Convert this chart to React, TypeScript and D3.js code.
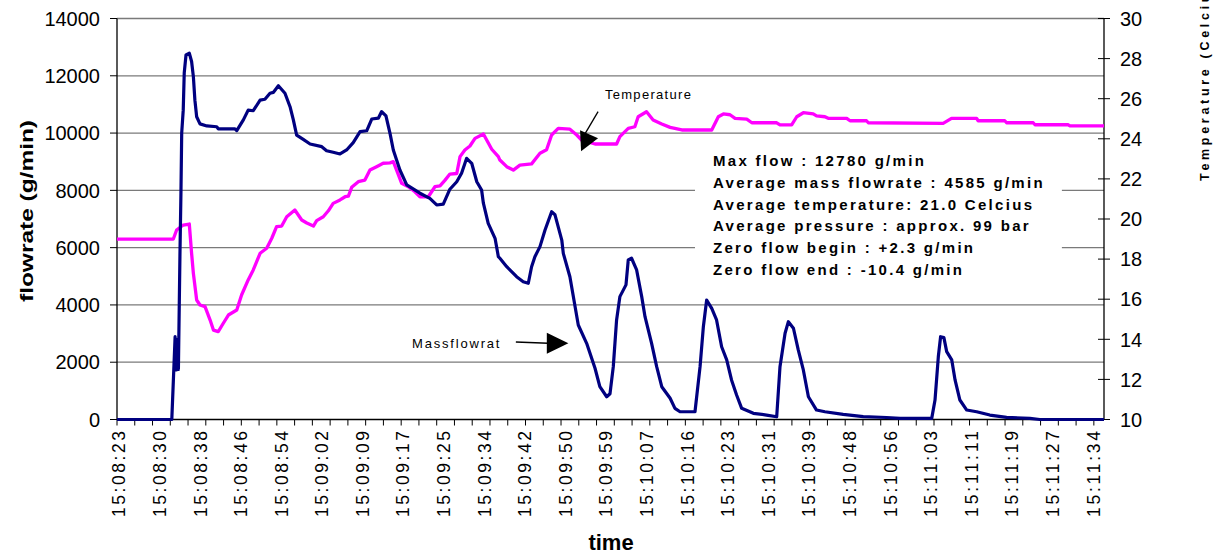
import React from "react";
import * as d3 from "d3";

// x-axis categories: one label every 16 samples, a tick mark every 7
const timeLabels = [
  "15:08:23", "15:08:30", "15:08:38", "15:08:46", "15:08:54", "15:09:02", "15:09:09",
  "15:09:17", "15:09:25", "15:09:34", "15:09:42", "15:09:50", "15:09:59", "15:10:07",
  "15:10:16", "15:10:23", "15:10:31", "15:10:39", "15:10:48", "15:10:56", "15:11:03",
  "15:11:11", "15:11:19", "15:11:27", "15:11:34",
];
const LABEL_EVERY = 16;
const TICK_EVERY = 7;
const SAMPLE_COUNT = 389;

const flowTicks = [0, 2000, 4000, 6000, 8000, 10000, 12000, 14000];
const tempTicks = [10, 12, 14, 16, 18, 20, 22, 24, 26, 28, 30];

// [sample index, g/min]
const massFlow: [number, number][] = [
  [0, 0], [21.6, 0], [22.9, 2890], [23.4, 1730], [23.8, 2800], [24.2, 1750], [24.8, 5690],
  [25.2, 7900], [25.5, 10000], [26.1, 10800], [26.5, 12100], [27.2, 12730], [28.5, 12790],
  [29.4, 12500], [30.1, 11970], [30.7, 11150], [31.4, 10570], [32.7, 10320], [35.4, 10250],
  [39.3, 10220], [39.9, 10150], [46.5, 10150], [47.2, 10085], [49.8, 10460], [51.7, 10800],
  [53.7, 10780], [56.4, 11150], [58.3, 11180], [60.3, 11390], [61.6, 11420], [63.6, 11650],
  [66.2, 11390], [68.2, 10920], [69.5, 10460], [70.8, 9930], [73.4, 9780], [76.1, 9620],
  [80.7, 9525], [82.6, 9385], [85.2, 9330], [87.9, 9270], [90.5, 9410], [93.1, 9665],
  [95.8, 10050], [98.4, 10080], [100.4, 10490], [103, 10520], [104.3, 10750], [106, 10600],
  [107.6, 9990], [108.9, 9410], [111.5, 8710], [114.2, 8190], [119.4, 7900], [123.3, 7720],
  [126, 7490], [128.6, 7520], [131.2, 8040], [133.9, 8300], [135.8, 8600], [137.8, 9120],
  [139.8, 8945], [141.8, 8300], [143.7, 8010], [144.4, 7550], [146.3, 6850], [149, 6325],
  [150.3, 5685], [150.9, 5630], [153.6, 5335], [157.5, 4985], [160.1, 4810], [162.1, 4755],
  [163.4, 5335], [164.7, 5685], [166.7, 6035], [168.7, 6615], [171.3, 7255], [172.6, 7150],
  [175.3, 6265], [175.9, 5800], [178.5, 4985], [181.8, 3300], [185.1, 2660], [188.4, 1790],
  [190.3, 1145], [193, 795], [194.3, 900], [195.6, 1845], [196.9, 3475], [198.2, 4290],
  [200.6, 4700], [201.5, 5570], [202.8, 5630], [204.8, 5220], [206.8, 4290], [208.1, 3590],
  [210.7, 2660], [212.7, 1845], [214.7, 1145], [218, 740], [219.9, 390], [221.9, 270],
  [227.8, 270], [229.8, 1845], [231.1, 3240], [232.4, 4170], [234.4, 3880], [236.3, 3475],
  [238.3, 2540], [240.3, 2080], [242.2, 1380], [244.2, 855], [246.2, 390], [250.8, 215],
  [256, 155], [260, 95], [261.3, 1845], [263.3, 3010], [264.6, 3415], [266.6, 3185],
  [268.5, 2430], [270.5, 1730], [272.5, 795], [275.7, 330], [279, 270], [286.2, 180],
  [294.1, 100], [303.3, 70], [308.6, 40], [321.1, 40], [322.4, 680], [323.7, 2190],
  [324.6, 2890], [325.9, 2860], [327, 2370], [329, 2080], [330.3, 1380], [332.2, 680],
  [334.9, 330], [338.8, 270], [344, 155], [350.6, 75], [359.8, 40], [363.7, 0], [389, 0],
];

// [sample index, Celcius]
const temperature: [number, number][] = [
  [0, 19.0], [22.2, 19.0], [23.5, 19.45], [26.1, 19.7], [28.5, 19.75], [29.4, 18.29],
  [30.1, 17.29], [31.4, 15.96], [32.7, 15.71], [34.7, 15.63], [36.7, 14.96], [38, 14.46],
  [39.9, 14.38], [41.9, 14.8], [43.9, 15.21], [47.2, 15.46], [49.1, 16.21], [51.7, 16.96],
  [53.7, 17.46], [56.4, 18.29], [59, 18.54], [61, 19.04], [62.9, 19.62], [64.9, 19.65],
  [66.9, 20.11], [70.1, 20.45], [72.8, 19.95], [74.8, 19.8], [77.4, 19.65], [78.7, 19.92],
  [81.3, 20.11], [83.3, 20.41], [85.2, 20.78], [87.9, 20.95], [89.9, 21.11], [91.2, 21.14],
  [92.5, 21.58], [95.1, 21.86], [97.7, 21.94], [99.7, 22.44], [102.3, 22.61], [104.9, 22.78],
  [107.6, 22.8], [108.9, 22.86], [110.2, 22.44], [112.2, 21.78], [114.8, 21.61], [117.4, 21.36],
  [119.4, 21.11], [122.7, 21.11], [125.3, 21.61], [127.3, 21.65], [129.3, 21.94], [131.2, 22.24],
  [133.9, 22.27], [135.2, 23.11], [137.1, 23.44], [139.1, 23.64], [141.1, 24.02], [144.4, 24.24],
  [145.7, 23.94], [147.7, 23.48], [150.3, 23.11], [150.9, 22.94], [153.6, 22.61], [156.2, 22.44],
  [158.8, 22.69], [163.4, 22.75], [166.7, 23.28], [169.3, 23.45], [171.3, 24.19], [173.9, 24.52],
  [178.5, 24.48], [181.2, 24.19], [183.1, 23.94], [188.4, 23.74], [196.9, 23.74], [198.2, 24.11],
  [201.5, 24.52], [204.1, 24.6], [205.4, 25.1], [208.7, 25.35], [211.3, 24.94], [214.7, 24.74],
  [218, 24.57], [222.6, 24.44], [234.4, 24.44], [237, 25.1], [239, 25.24], [241.6, 25.2],
  [243.6, 25.02], [248.2, 24.98], [250.2, 24.8], [260, 24.8], [261.3, 24.69], [265.9, 24.69],
  [267.9, 25.1], [270.5, 25.3], [274.4, 25.24], [275.7, 25.14], [279, 25.1], [280.3, 25.02],
  [287.6, 25.02], [288.9, 24.9], [295.4, 24.9], [296.1, 24.8], [325.6, 24.77], [328.9, 25.02],
  [338.8, 25.02], [339.4, 24.9], [349.9, 24.9], [350.6, 24.8], [361.1, 24.8], [361.8, 24.7],
  [374.9, 24.7], [375.6, 24.64], [389, 24.64],
];

const statsLines = [
  "Max flow :    12780 g/min",
  "Average mass flowrate : 4585 g/min",
  "Average temperature: 21.0 Celcius",
  "Average pressure : approx. 99 bar",
  "Zero flow begin : +2.3 g/min",
  "Zero flow end : -10.4 g/min",
];

const FONT = "'Liberation Sans', Arial, Helvetica, sans-serif";

export default function App() {
  const x = d3.scaleLinear().domain([0, SAMPLE_COUNT]).range([117, 1104]);
  const yFlow = d3.scaleLinear().domain([0, 14000]).range([419.5, 18.5]);
  const yTemp = d3.scaleLinear().domain([10, 30]).range([419.5, 18.5]);

  const flowLine = d3.line<[number, number]>().x(d => x(d[0])).y(d => yFlow(d[1]));
  const tempLine = d3.line<[number, number]>().x(d => x(d[0])).y(d => yTemp(d[1]));

  const tickIdx = d3.range(0, SAMPLE_COUNT, TICK_EVERY);
  const [x0, x1] = x.range();
  const [yb, yt] = yFlow.range();

  // annotation anchors in data units
  const tempTip = [x(189.6), yFlow(9817)];
  const tempTail = [x(189.6), yFlow(10746)];
  const massTip = [x(177.9), yFlow(2660)];
  const massTail = [x(157.2), yFlow(2706)];

  return (
    <svg width={1226} height={555} style={{ position: "absolute", left: 0, top: 0, background: "#fff" }}
      fontFamily={FONT}>
      {/* gridlines */}
      {flowTicks.filter(v => v > 0).map(v => (
        <line key={v} x1={x0} x2={x1} y1={yFlow(v)} y2={yFlow(v)} stroke="#7a7a7a" strokeWidth={1.3} />
      ))}

      {/* stats box */}
      <rect x={x(227.8)} y={yFlow(9758)} width={x(372.4) - x(227.8)} height={yFlow(4521) - yFlow(9758)} fill="#fff" />
      <g fontSize={15} fontWeight="bold" letterSpacing={2.3} fill="#000" style={{ whiteSpace: "pre" }}>
        {statsLines.map((s, i) => (
          <text key={i} x={x(234.9)} y={yFlow(8850) + i * 21.8}>{s}</text>
        ))}
      </g>

      {/* axes */}
      <line x1={x0} x2={x0} y1={yt} y2={yb} stroke="#000" strokeWidth={1.3} />
      <line x1={x1} x2={x1} y1={yt} y2={yb} stroke="#000" strokeWidth={1.3} />
      <line x1={x0} x2={x1} y1={yb} y2={yb} stroke="#000" strokeWidth={1.3} />

      {flowTicks.map(v => (
        <g key={v}>
          <line x1={x0 - 7} x2={x0} y1={yFlow(v)} y2={yFlow(v)} stroke="#000" />
          <text x={100} y={yFlow(v)} dy="0.36em" textAnchor="end" fontSize={20}>{v}</text>
        </g>
      ))}
      {tempTicks.map(v => (
        <g key={v}>
          <line x1={x1 - 6} x2={x1 + 6} y1={yTemp(v)} y2={yTemp(v)} stroke="#000" />
          <text x={1120} y={yTemp(v)} dy="0.36em" fontSize={20}>{v}</text>
        </g>
      ))}
      {tickIdx.map(i => (
        <line key={i} x1={x(i)} x2={x(i)} y1={yb} y2={yb + 6} stroke="#000" />
      ))}
      {timeLabels.map((t, k) => (
        <text key={t} transform={`translate(${x(k * LABEL_EVERY) + 2},431) rotate(-90)`} dy="0.36em"
          textAnchor="end" fontSize={17.5} textLength={86} lengthAdjust="spacing">{t}</text>
      ))}

      {/* axis titles */}
      <text transform="translate(33,211) rotate(-90)" textAnchor="middle" fontSize={18} fontWeight="bold"
        textLength={182} lengthAdjust="spacingAndGlyphs">flowrate (g/min)</text>
      <text x={611} y={550} textAnchor="middle" fontSize={22} fontWeight="bold">time</text>
      <text transform="translate(1209,181) rotate(-90)" fontSize={12.5} fontWeight="bold"
        textLength={205} lengthAdjust="spacing">Temperature (Celcius)</text>

      {/* series */}
      <path d={tempLine(temperature) ?? ""} fill="none" stroke="#ff00ff" strokeWidth={3.3} strokeLinejoin="round" />
      <path d={flowLine(massFlow) ?? ""} fill="none" stroke="#000080" strokeWidth={3.2} strokeLinejoin="round" />

      {/* annotations */}
      <text x={x(192.3)} y={yFlow(11190)} fontSize={13} letterSpacing={1.3}>Temperature</text>
      <line x1={tempTail[0]} y1={tempTail[1]} x2={tempTip[0] - 14} y2={tempTip[1] - 3} stroke="#000" strokeWidth={1.3} />
      <path d={`M${tempTip[0]},${tempTip[1]} l-18,-8 l1,21 Z`} fill="#000" />

      <text x={x(116.3)} y={yFlow(2496)} fontSize={13} letterSpacing={1.8}>Massflowrat</text>
      <line x1={massTail[0]} y1={massTail[1]} x2={massTip[0] - 20} y2={massTip[1]} stroke="#000" strokeWidth={1.5} />
      <path d={`M${massTip[0]},${massTip[1]} l-21.6,-10.5 l0,21 Z`} fill="#000" />
    </svg>
  );
}
